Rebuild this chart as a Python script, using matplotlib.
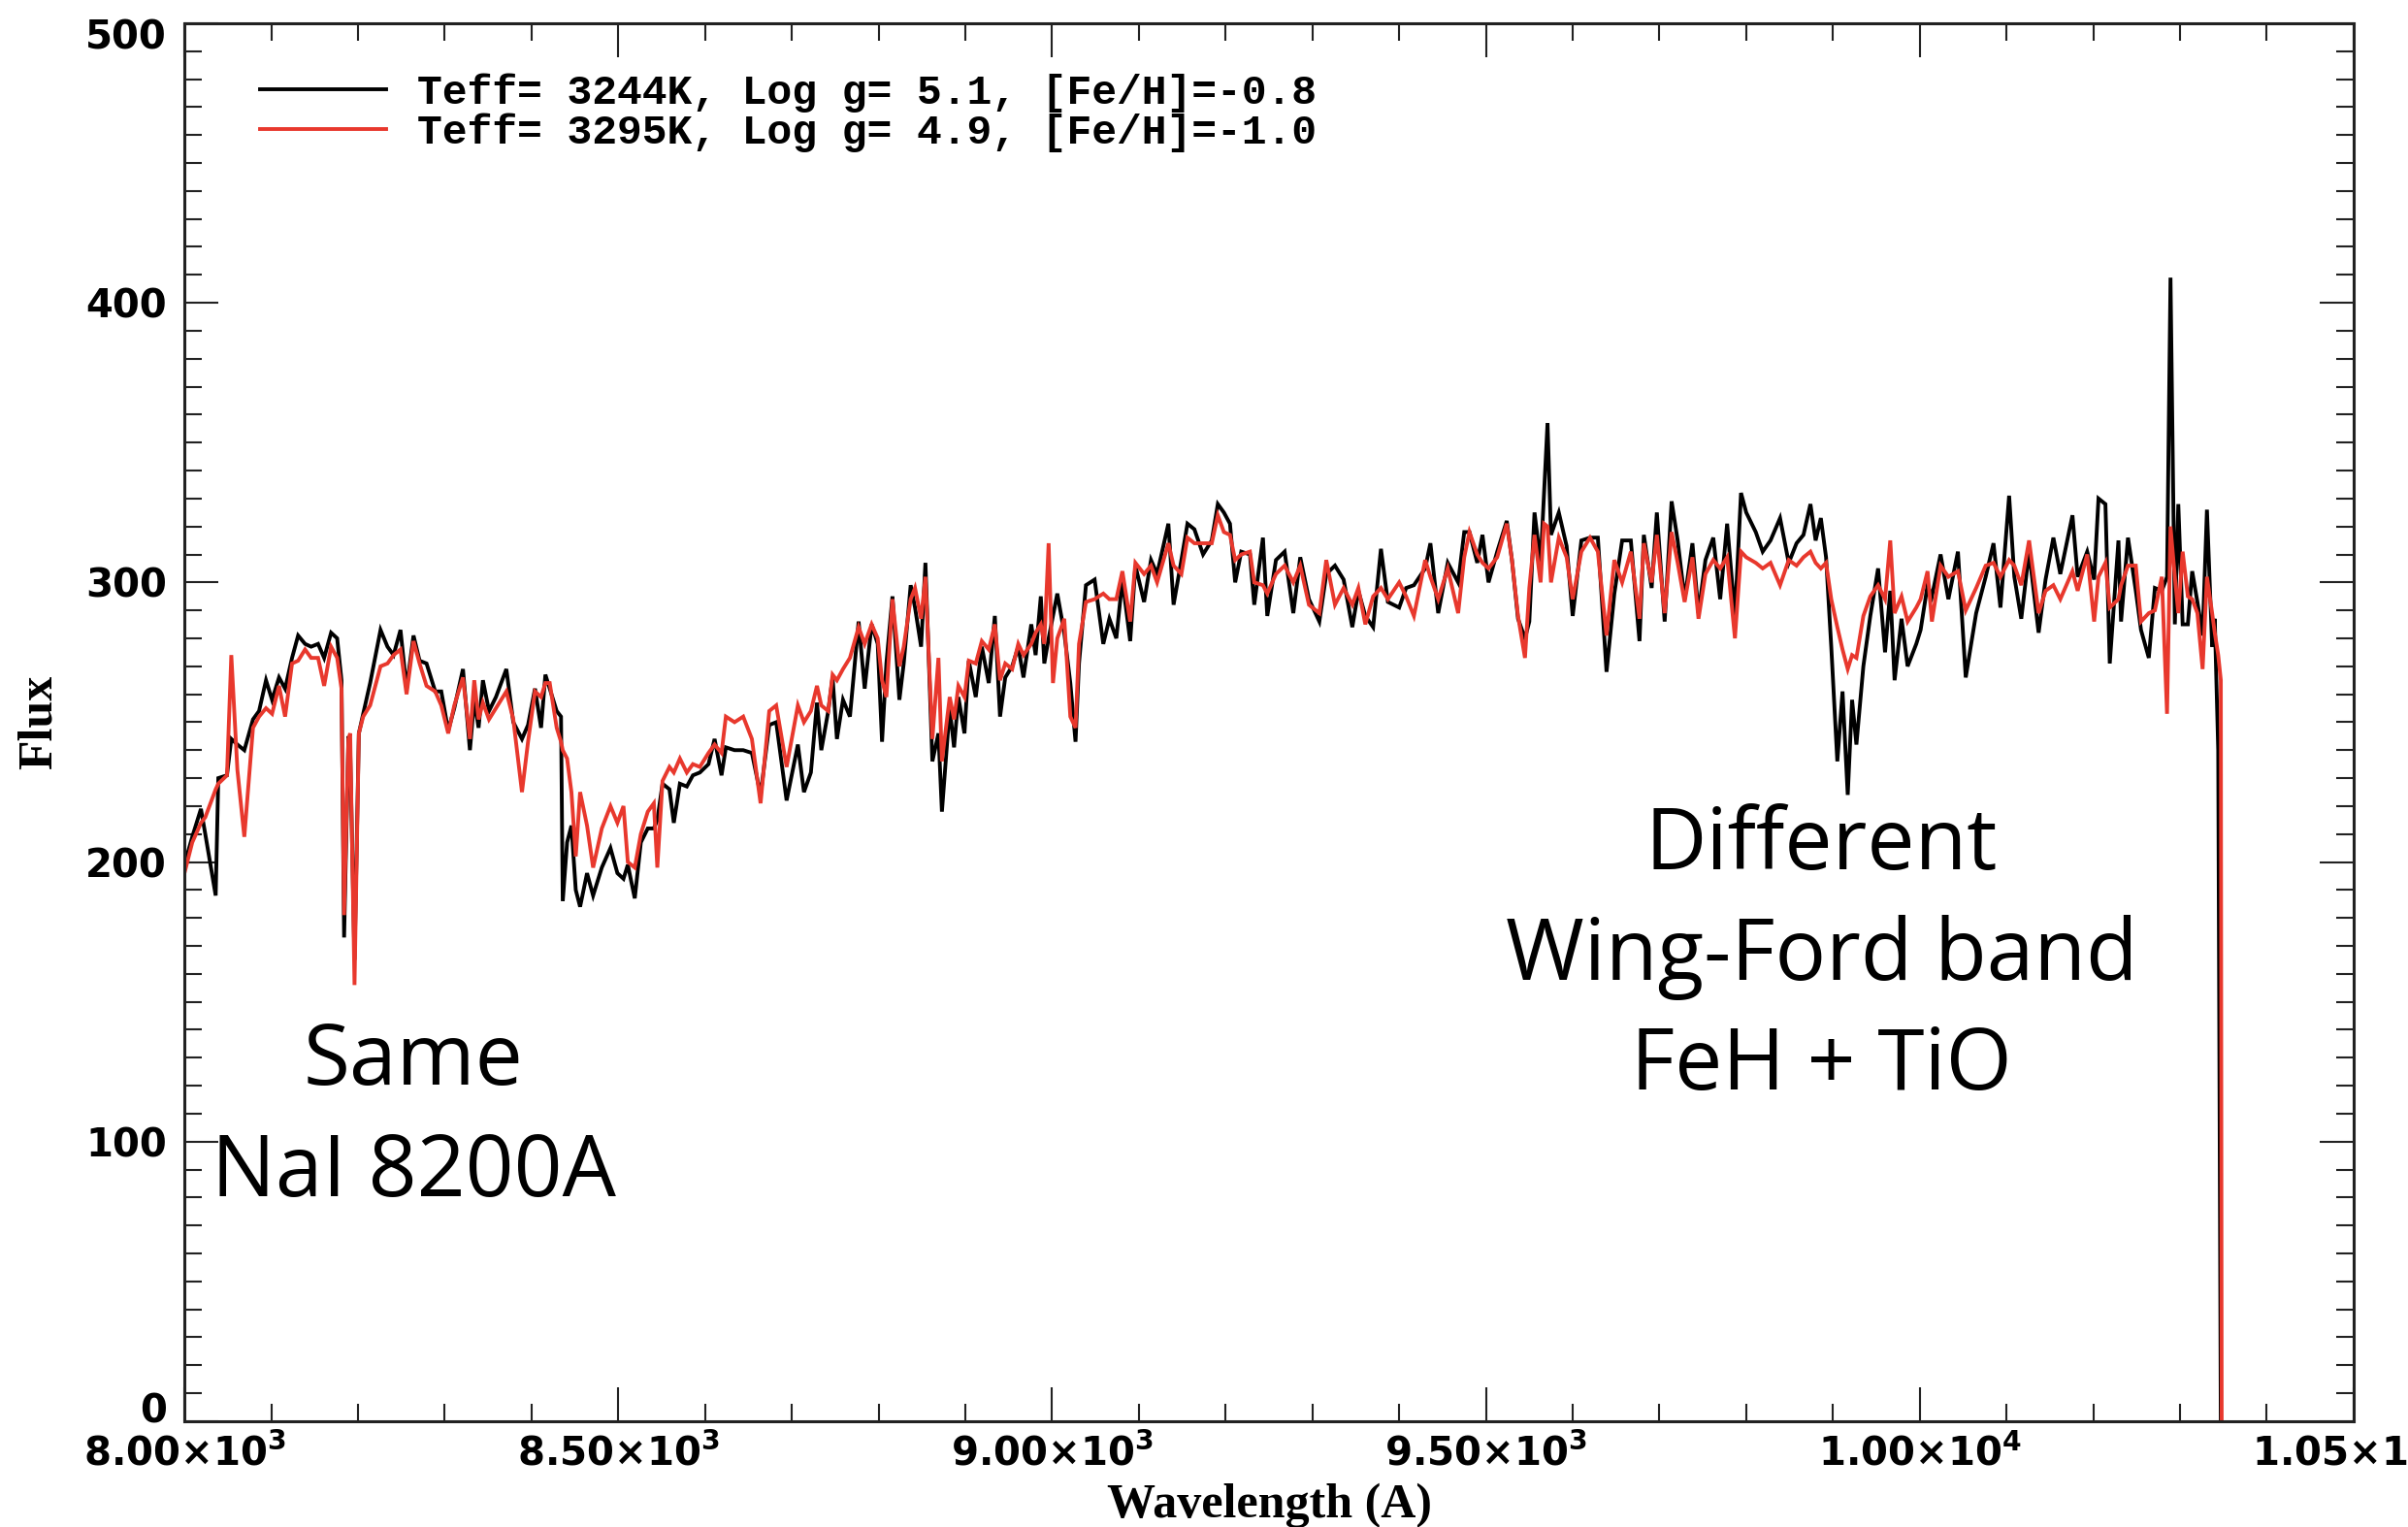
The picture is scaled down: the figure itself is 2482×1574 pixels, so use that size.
import matplotlib
matplotlib.use("Agg")
import matplotlib.pyplot as plt
import matplotlib.transforms as mtransforms
from matplotlib.ticker import MultipleLocator, FixedLocator, FixedFormatter
from matplotlib.lines import Line2D

# Wavelength grid (Angstrom) and flux of the two model spectra
wavelength = [
    8000, 8009, 8019, 8024, 8036, 8039, 8049, 8054, 8061, 8069, 8079, 8086, 8094, 8101,
    8109, 8116, 8124, 8131, 8139, 8146, 8154, 8161, 8169, 8176, 8181, 8184, 8189, 8191,
    8196, 8201, 8206, 8214, 8226, 8234, 8241, 8249, 8256, 8264, 8271, 8279, 8289, 8296,
    8304, 8311, 8321, 8329, 8334, 8339, 8344, 8351, 8359, 8371, 8379, 8389, 8396, 8404,
    8411, 8416, 8421, 8429, 8434, 8436, 8441, 8446, 8451, 8456, 8464, 8471, 8481, 8491,
    8499, 8506, 8511, 8519, 8526, 8534, 8541, 8545, 8551, 8559, 8564, 8571, 8579, 8586,
    8594, 8604, 8611, 8619, 8624, 8634, 8644, 8654, 8664, 8674,
    8682, 8694, 8707, 8714, 8722, 8729, 8734, 8742, 8747, 8752, 8759, 8767, 8777, 8784,
    8792, 8799, 8804, 8809, 8816, 8824, 8829, 8837, 8842, 8849, 8854, 8862, 8869, 8873,
    8882, 8887, 8892, 8899, 8904, 8912, 8919, 8927, 8934, 8940, 8946, 8954, 8961, 8967,
    8976, 8981, 8987, 8991, 8996, 9001, 9006, 9014, 9021, 9027, 9031, 9039, 9049, 9059,
    9066, 9074, 9081, 9090, 9096, 9106, 9114, 9121, 9134, 9140, 9149, 9156, 9164, 9174,
    9184, 9191, 9198, 9205, 9211, 9218, 9228, 9233, 9243, 9248, 9258, 9268, 9278, 9286,
    9296, 9308, 9316, 9326, 9336, 9346, 9353,
    9361, 9370, 9379, 9387, 9400, 9408, 9417, 9430, 9436, 9445, 9456, 9468, 9475, 9481,
    9490, 9496, 9503, 9513, 9524, 9530, 9537, 9545, 9550, 9556, 9563, 9567, 9571, 9575,
    9584, 9593, 9600, 9610, 9620, 9629, 9639, 9648, 9657, 9667, 9677, 9682, 9691, 9697,
    9706, 9714, 9721, 9729, 9738, 9745, 9753, 9762, 9770, 9778, 9787, 9794, 9800, 9811,
    9819, 9828, 9839, 9849, 9858, 9866, 9874, 9880, 9886, 9892, 9898, 9905, 9911, 9917,
    9922, 9927, 9935, 9943, 9952,
    9960, 9966, 9971, 9979, 9986, 9996, 10001, 10009, 10014, 10024, 10033, 10044, 10053,
    10065, 10076, 10085, 10093, 10103, 10109, 10117, 10126, 10137, 10145, 10154, 10162,
    10176, 10182, 10193, 10201, 10206, 10214, 10219, 10229, 10232, 10240, 10249, 10255,
    10264, 10271, 10279, 10285, 10289, 10294, 10298, 10303, 10309, 10314, 10320, 10326,
    10331, 10337, 10340, 10344, 10347, 10348,
]

# Teff=3244K, log g=5.1, [Fe/H]=-0.8
flux_black = [
    199, 209, 219, 210, 188, 230, 231, 244, 242, 240, 251, 254, 265, 258,
    266, 262, 273, 281, 278, 277, 278, 273, 282, 280, 265, 173, 245, 240,
    165, 246, 253, 264, 283, 277, 274, 283, 262, 281, 272, 271, 261, 261,
    247, 255, 269, 240, 258, 248, 265, 254, 259, 269, 250, 244, 249, 262,
    248, 267, 262, 254, 252, 186, 207, 213, 190, 184, 196, 188, 198, 205,
    196, 194, 199, 187, 207, 212, 212, 215, 228, 226, 214, 228, 227, 231,
    232, 235, 244, 231, 241, 240, 240, 239, 224, 249,
    250, 222, 242, 225, 232, 257, 240, 254, 266, 244, 258, 252, 286, 262,
    285, 278, 243, 271, 295, 258, 271, 299, 291, 277, 307, 236, 246, 218,
    255, 241, 259, 246, 272, 259, 277, 264, 288, 252, 266, 270, 277, 266,
    285, 274, 295, 271, 280, 288, 296, 282, 264, 243, 271, 299, 301, 278,
    287, 280, 301, 279, 306, 293, 308, 303, 321, 292, 308, 321, 319, 310,
    315, 328, 325, 321, 300, 311, 310, 292, 316, 288, 308, 311, 289, 309,
    294, 286, 303, 306, 301, 284, 297,
    288, 284, 312, 293, 291, 298, 299, 305, 314, 289, 307, 300, 318, 318,
    307, 317, 300, 311, 322, 308, 287, 280, 286, 325, 307, 332, 357, 317,
    325, 313, 288, 315, 316, 316, 268, 296, 315, 315, 279, 317, 298, 325,
    286, 329, 315, 294, 314, 289, 308, 316, 294, 321, 288, 332, 325, 318,
    311, 315, 323, 307, 314, 317, 328, 315, 323, 309, 277, 236, 261, 224,
    258, 242, 270, 288, 305,
    275, 297, 265, 287, 270, 278, 283, 299, 295, 310, 294, 311, 266,
    289, 302, 314, 291, 331, 302, 287, 311, 282, 301, 316, 303,
    324, 302, 311, 301, 330, 328, 271, 315, 286, 316, 297, 283,
    273, 298, 297, 302, 409, 285, 328, 285, 285, 304, 293, 281,
    326, 277, 287, 240, -3, -3,
]

# Teff=3295K, log g=4.9, [Fe/H]=-1.0
flux_red = [
    196, 207, 214, 216, 226, 228, 231, 274, 233, 209, 248, 252, 255, 253,
    263, 252, 271, 272, 276, 273, 273, 263, 277, 273, 262, 181, 244, 246,
    156, 246, 252, 256, 270, 271, 274, 276, 260, 279, 271, 263, 261, 256,
    246, 256, 266, 244, 265, 251, 257, 251, 255, 261, 251, 225, 243, 261,
    259, 264, 264, 248, 243, 240, 237, 225, 202, 225, 213, 198, 212, 220,
    214, 220, 200, 198, 210, 218, 221, 198, 229, 234, 232, 237, 232, 235,
    234, 239, 242, 239, 252, 250, 252, 244, 221, 254,
    256, 234, 256, 250, 254, 263, 256, 254, 267, 265, 269, 273, 284, 278,
    285, 280, 265, 259, 294, 270, 277, 294, 298, 287, 302, 244, 273, 236,
    259, 251, 263, 259, 272, 271, 279, 276, 285, 265, 271, 269, 278, 274,
    278, 282, 285, 278, 314, 264, 280, 287, 252, 248, 278, 293, 294, 296,
    294, 294, 304, 286, 307, 303, 306, 300, 314, 306, 303, 316, 314, 314,
    314, 324, 318, 317, 308, 310, 311, 300, 299, 296, 303, 306, 300, 306,
    292, 289, 308, 292, 298, 292, 298,
    285, 295, 298, 294, 300, 295, 288, 308, 302, 294, 305, 289, 309, 318,
    310, 307, 305, 309, 321, 308, 288, 273, 298, 317, 300, 321, 320, 300,
    316, 309, 294, 311, 316, 311, 281, 308, 300, 311, 287, 314, 300, 317,
    289, 318, 307, 293, 309, 287, 303, 308, 305, 309, 280, 311, 309, 307,
    305, 307, 299, 308, 306, 309, 311, 307, 305, 307, 294, 284, 276, 269,
    274, 273, 288, 295, 299,
    294, 315, 289, 295, 286, 291, 294, 304, 286, 306, 302, 304, 290,
    298, 306, 307, 302, 308, 306, 299, 315, 289, 297, 299, 294,
    304, 297, 310, 286, 302, 307, 291, 294, 299, 306, 306, 286,
    289, 290, 302, 253, 320, 302, 289, 311, 295, 294, 289, 269,
    302, 289, 282, 274, 265, -3,
]

labels = [
    "Teff= 3244K, Log g= 5.1, [Fe/H]=-0.8",
    "Teff= 3295K, Log g= 4.9, [Fe/H]=-1.0",
]
xtick_values = [8000, 8500, 9000, 9500, 10000, 10500]
xtick_labels = [r"8.00$\times$10$^{3}$", r"8.50$\times$10$^{3}$", r"9.00$\times$10$^{3}$",
                r"9.50$\times$10$^{3}$", r"1.00$\times$10$^{4}$", r"1.05$\times$10$^{4}$"]
ytick_values = [0, 100, 200, 300, 400, 500]

plt.rcParams["mathtext.fontset"] = "custom"
plt.rcParams["mathtext.rm"] = "DejaVu Sans:bold"
plt.rcParams["mathtext.it"] = "DejaVu Sans:bold"
plt.rcParams["mathtext.bf"] = "DejaVu Sans:bold"

fig = plt.figure(figsize=(24.82, 15.74), dpi=100)
fig.patch.set_facecolor("white")
ax = fig.add_axes([0.0766, 0.0693, 0.9008, 0.9155])

black_col = "#000000"
red_col = "#e8382d"
ax.plot(wavelength, flux_black, color=black_col, lw=2.8, solid_joinstyle="miter")
ax.plot(wavelength, flux_red, color=red_col, lw=2.8, solid_joinstyle="miter")

ax.set_xlim(8000, 10500)
ax.set_ylim(0, 500)

ax.xaxis.set_major_locator(FixedLocator(xtick_values))
ax.xaxis.set_major_formatter(FixedFormatter(xtick_labels))
ax.xaxis.set_minor_locator(MultipleLocator(100))
ax.yaxis.set_major_locator(FixedLocator(ytick_values))
ax.yaxis.set_minor_locator(MultipleLocator(10))

ax.tick_params(which="both", direction="in", top=True, right=True, width=1.5, color="#222222")
ax.tick_params(which="major", length=25)
ax.tick_params(which="minor", length=13)
ax.tick_params(axis="y", which="major", pad=13, labelsize=29)
ax.tick_params(axis="x", which="major", pad=10, labelsize=29)
for lab in ax.get_xticklabels() + ax.get_yticklabels():
    lab.set_family("DejaVu Sans")
    lab.set_fontweight("bold")

# end labels of the flux axis sit slightly inside the axis range
ylabels = ax.get_yticklabels()
ylabels[0].set_transform(ylabels[0].get_transform() +
                         mtransforms.ScaledTranslation(0, 10 / 72, fig.dpi_scale_trans))
ylabels[-1].set_transform(ylabels[-1].get_transform() +
                          mtransforms.ScaledTranslation(0, -8 / 72, fig.dpi_scale_trans))

for sp in ax.spines.values():
    sp.set_linewidth(2.2)
    sp.set_color("#222222")

ax.set_xlabel("Wavelength (A)", family="Liberation Serif", fontweight="bold",
              fontsize=36, labelpad=6)
ax.set_ylabel("Flux", family="Liberation Serif", fontweight="bold",
              fontsize=36, labelpad=18)

handles = [Line2D([], [], color=black_col, lw=2.8), Line2D([], [], color=red_col, lw=2.8)]
ax.legend(handles, labels, loc="upper left", bbox_to_anchor=(0.035, 0.964),
          frameon=False, borderaxespad=0, borderpad=0,
          handlelength=3.0, handletextpad=0.75, labelspacing=0.0,
          prop={"family": "Liberation Mono", "weight": "bold", "size": 31})

ann = dict(ha="center", va="baseline", fontsize=63, family="Open Sans", color="black")
ax.text(8264, 120.3, "Same", **ann)
ax.text(8264, 80.6, "NaI 8200A", **ann)
ax.text(9887, 197.5, "Different", **ann)
ax.text(9887, 158.0, "Wing-Ford band", **ann)
ax.text(9887, 118.8, "FeH + TiO", **ann)

fig.savefig("out.png", dpi=100)
